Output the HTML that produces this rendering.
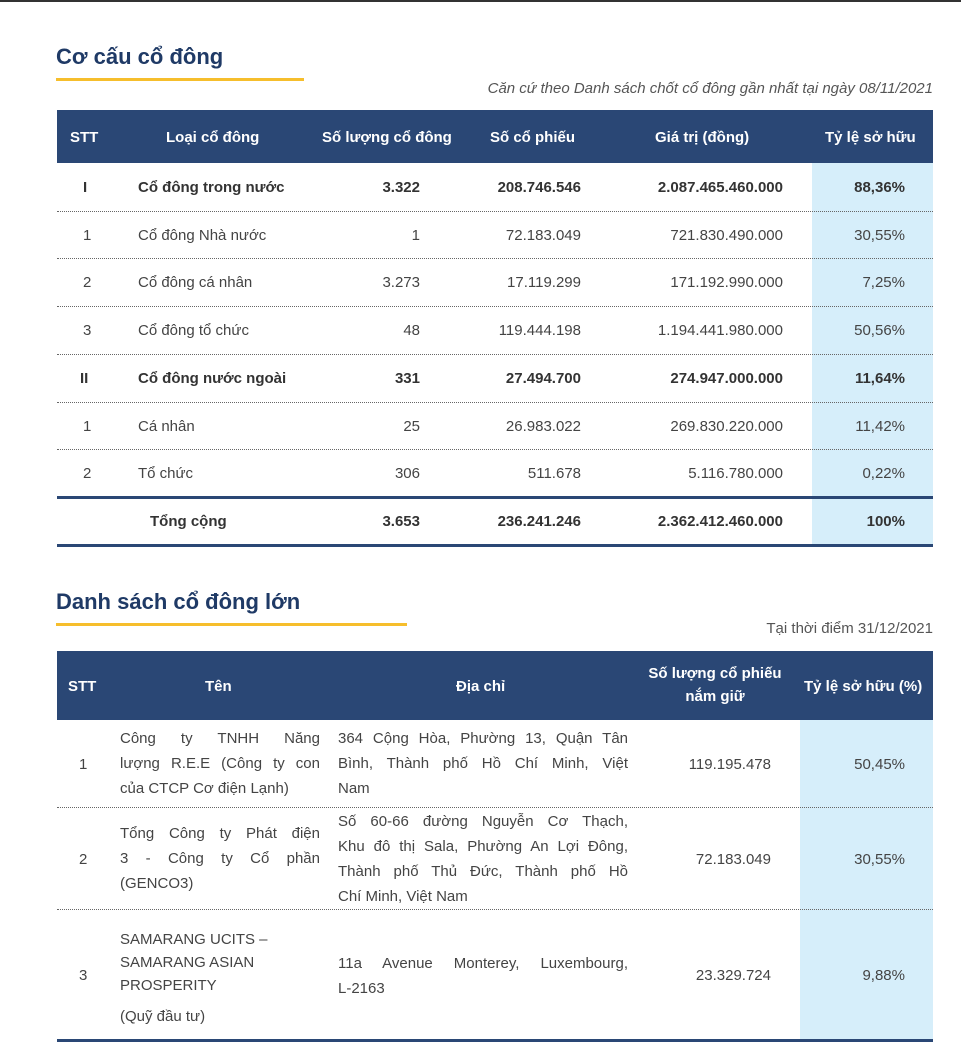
<!DOCTYPE html>
<html><head><meta charset="utf-8"><style>
*{margin:0;padding:0;box-sizing:border-box}
body{width:961px;height:1052px;background:#fff;position:relative;overflow:hidden;font-family:"Liberation Sans","DejaVu Sans",sans-serif;color:#444}
.a{position:absolute;white-space:nowrap}
.t{font-size:22px;font-weight:bold;color:#1f3a66}
.ul{position:absolute;height:3px;background:#f6be2c}
.hd{position:absolute;background:#2a4775}
.hdt{position:absolute;color:#fff;font-weight:bold;font-size:15px;white-space:nowrap}
.c{font-size:15px}
.b{font-weight:bold;color:#333}
.dot{position:absolute;left:57px;width:876px;border-top:1px dotted #666;height:0}
.thick{position:absolute;height:3px;background:#2a4775}
.blue{position:absolute;background:#d6eefa}
.j{text-align:justify;text-align-last:justify;white-space:nowrap;height:25px}
.l{height:25px;white-space:nowrap}
</style></head><body>
<div class="a" style="left:0;top:0;width:961px;height:2px;background:#333"></div>

<div class="a t" style="left:56px;top:44px">Cơ cấu cổ đông</div>
<div class="ul" style="left:56px;top:78px;width:248px"></div>
<div class="a c" style="right:28px;top:80px;font-style:italic;color:#555">Căn cứ theo Danh sách chốt cổ đông gần nhất tại ngày 08/11/2021</div>

<div>
<div class="blue" style="left:812px;top:163px;width:121px;height:382px"></div>
<div class="hd" style="left:57px;top:110px;width:876px;height:53px"></div>
<div class="hdt" style="left:70px;top:129px">STT</div>
<div class="hdt" style="left:166px;top:129px">Loại cổ đông</div>
<div class="hdt" style="left:322px;top:129px">Số lượng cổ đông</div>
<div class="hdt" style="left:490px;top:129px">Số cổ phiếu</div>
<div class="hdt" style="left:655px;top:129px">Giá trị  (đồng)</div>
<div class="hdt" style="left:825px;top:129px">Tỷ lệ sở hữu</div>
<div id="rows1"></div>
<div class="thick" style="left:57px;top:496px;width:876px"></div>
<div class="thick" style="left:57px;top:544px;width:876px"></div>
</div>

<div class="a t" style="left:56px;top:589px">Danh sách cổ đông lớn</div>
<div class="ul" style="left:56px;top:623px;width:351px"></div>
<div class="a c" style="right:28px;top:620px;color:#555">Tại thời điểm 31/12/2021</div>

<div>
<div class="blue" style="left:800px;top:720px;width:133px;height:320px"></div>
<div class="hd" style="left:57px;top:651px;width:876px;height:69px"></div>
<div class="hdt" style="left:68px;top:678px">STT</div>
<div class="hdt" style="left:205px;top:678px">Tên</div>
<div class="hdt" style="left:456px;top:678px">Địa chỉ</div>
<div class="hdt" style="left:640px;top:662px;width:150px;text-align:center;line-height:23px;white-space:normal">Số lượng cổ phiếu nắm giữ</div>
<div class="hdt" style="left:804px;top:678px">Tỷ lệ sở hữu (%)</div>

<div class="dot" style="top:807px"></div>
<div class="dot" style="top:909px"></div>
<div class="thick" style="left:57px;top:1039px;width:876px"></div>

<div>
<div class="a c" style="left:79px;top:756px">1</div>
<div class="a c" style="left:120px;top:730px;width:200px"><div class="j">Công ty TNHH Năng</div><div class="j">lượng R.E.E (Công ty con</div><div class="l">của CTCP Cơ điện Lạnh)</div></div>
<div class="a c" style="left:338px;top:730px;width:290px"><div class="j">364 Cộng Hòa, Phường 13, Quận Tân</div><div class="j">Bình, Thành phố Hồ Chí Minh, Việt</div><div class="l">Nam</div></div>
<div class="a c" style="right:190px;top:756px">119.195.478</div>
<div class="a c" style="right:56px;top:756px">50,45%</div>
</div>
<div>
<div class="a c" style="left:79px;top:851px">2</div>
<div class="a c" style="left:120px;top:825px;width:200px"><div class="j">Tổng Công ty Phát điện</div><div class="j">3 - Công ty Cổ phần</div><div class="l">(GENCO3)</div></div>
<div class="a c" style="left:338px;top:813px;width:290px"><div class="j">Số 60-66 đường Nguyễn Cơ Thạch,</div><div class="j">Khu đô thị Sala, Phường An Lợi Đông,</div><div class="j">Thành phố Thủ Đức, Thành phố Hồ</div><div class="l">Chí Minh, Việt Nam</div></div>
<div class="a c" style="right:190px;top:851px">72.183.049</div>
<div class="a c" style="right:56px;top:851px">30,55%</div>
</div>
<div>
<div class="a c" style="left:79px;top:967px">3</div>
<div class="a c" style="left:120px;top:928px;line-height:23px">SAMARANG UCITS –<br>SAMARANG ASIAN<br>PROSPERITY</div>
<div class="a c" style="left:120px;top:1008px">(Quỹ đầu tư)</div>
<div class="a c" style="left:338px;top:955px;width:290px"><div class="j">11a Avenue Monterey, Luxembourg,</div><div class="l">L-2163</div></div>
<div class="a c" style="right:190px;top:967px">23.329.724</div>
<div class="a c" style="right:56px;top:967px">9,88%</div>
</div>
</div>

<script>
const stt=["I","1","2","3","II","1","2",""];
const types=["Cổ đông trong nước","Cổ đông Nhà nước","Cổ đông cá nhân","Cổ đông tổ chức","Cổ đông nước ngoài","Cá nhân","Tổ chức","Tổng cộng"];
const counts=["3.322","1","3.273","48","331","25","306","3.653"];
const shares=["208.746.546","72.183.049","17.119.299","119.444.198","27.494.700","26.983.022","511.678","236.241.246"];
const values=["2.087.465.460.000","721.830.490.000","171.192.990.000","1.194.441.980.000","274.947.000.000","269.830.220.000","5.116.780.000","2.362.412.460.000"];
const ratios=["88,36%","30,55%","7,25%","50,56%","11,64%","11,42%","0,22%","100%"];
const bold=[1,0,0,0,1,0,0,1];
const host=document.getElementById('rows1');
const top0=163,rh=47.7;
for(let i=0;i<types.length;i++){
  const y=top0+i*rh;
  const row=document.createElement('div');
  
  
  const cy=Math.round(y+16);
  const b=bold[i]?' b':'';
  const tl=i===7?150:138;
  row.innerHTML=
   `<div class="a c${b}" style="left:${stt[i].length>1?80:83}px;top:${cy}px">${stt[i]}</div>`+
   `<div class="a c${b}" style="left:${tl}px;top:${cy}px">${types[i]}</div>`+
   `<div class="a c${b}" style="right:541px;top:${cy}px">${counts[i]}</div>`+
   `<div class="a c${b}" style="right:380px;top:${cy}px">${shares[i]}</div>`+
   `<div class="a c${b}" style="right:178px;top:${cy}px">${values[i]}</div>`+
   `<div class="a c${b}" style="right:56px;top:${cy}px">${ratios[i]}</div>`;
  host.appendChild(row);
  if(i<6){
    const d=document.createElement('div');
    d.className='dot';
    d.style.top=Math.round(y+rh)+'px';
    
    
    host.appendChild(d);
  }
}
</script>
</body></html>
